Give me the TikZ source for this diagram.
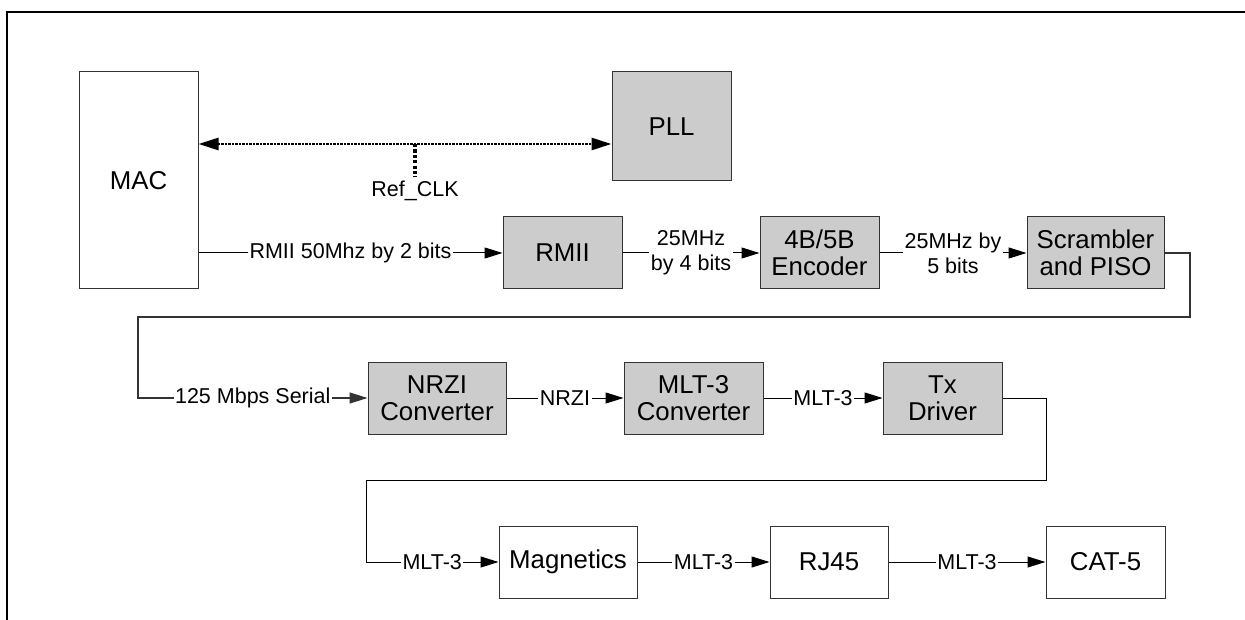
\documentclass[tikz,border=0pt]{standalone}
\usepackage{fontspec}
\setmainfont{Liberation Sans}
\usetikzlibrary{arrows.meta,calc}
\definecolor{boxfill}{HTML}{CCCCCC}
\definecolor{edgec}{HTML}{333333}
\begin{document}
\begin{tikzpicture}[x=1pt,y=-1pt,
  blk/.style={draw=edgec, line width=1pt, fill=boxfill, inner sep=0pt, align=center,
    font=\fontsize{25.8}{27}\selectfont, minimum height=72pt},
  wblk/.style={blk, fill=white},
  lbl/.style={fill=white, inner sep=1.5pt, align=center, font=\fontsize{21.5}{25}\selectfont},
  arr/.style={draw=black, line width=1pt, -{Triangle[length=18pt,width=11pt]}},
  dotarr/.style={line width=2.6pt, dash pattern=on 2.4pt off 1.1pt,
    {Triangle[length=20pt,width=12pt]}-{Triangle[length=20pt,width=12pt]}},
  stub/.style={line width=3.2pt, dash pattern=on 3.2pt off 2.2pt}]
\useasboundingbox (0,0) rectangle (1245,620);
% frame
\draw[line width=2.2pt] (7,620) -- (7,12) -- (1245,12);
% boxes
\node[wblk, minimum width=119pt, minimum height=217pt] (mac) at (138.5,180.5) {MAC};
\node[blk, minimum width=119pt, minimum height=109pt] (pll) at (671.5,126.5) {PLL};
\node[blk, minimum width=119pt] (rmii) at (562.5,253) {RMII};
\node[blk, minimum width=119pt] (enc) at (819.5,253) {4B/5B\\Encoder};
\node[blk, minimum width=137pt] (scr) at (1095.5,253) {Scrambler\\and PISO};
\node[blk, minimum width=138pt] (nrzi) at (437,398) {NRZI\\Converter};
\node[blk, minimum width=139pt] (mlt) at (693.5,398) {MLT-3\\Converter};
\node[blk, minimum width=119pt] (tx) at (942.5,398) {Tx\\Driver};
\node[wblk, minimum width=138pt] (mag) at (568,562) {Magnetics};
\node[wblk, minimum width=118pt] (rj) at (829,562) {RJ45};
\node[wblk, minimum width=119pt] (cat) at (1105.5,562) {CAT-5};
% ref clock
\coordinate (rc) at (415,144);
\node[lbl, anchor=north, inner sep=0pt] (refclk) at (415,181) {Ref\_CLK};
\draw[dotarr] (mac.east |- rc) -- (pll.west |- rc);
\draw[stub, shorten >=4pt] (rc) -- (refclk.north);
% row 2
\draw[arr] (mac.east |- rmii.west) -- node[lbl]{RMII 50Mhz by 2 bits} (rmii.west);
\draw[arr] (rmii.east) -- node[lbl]{25MHz\\by 4 bits} (enc.west);
\draw[arr] (enc.east) -- node[lbl]{25MHz by\\5 bits} (scr.west);
% wrap 1
\coordinate (c1) at (1190,317);
\coordinate (c2) at (138,317);
\draw[arr, draw=edgec, line width=1.3pt] (scr.east) -| (c1) -- (c2) |- node[lbl, pos=0.75]{125 Mbps Serial} (nrzi.west);
% row 3
\draw[arr] (nrzi.east) -- node[lbl]{NRZI} (mlt.west);
\draw[arr] (mlt.east) -- node[lbl]{MLT-3} (tx.west);
% wrap 2
\coordinate (c3) at (1046,480);
\coordinate (c4) at (366,480);
\draw[arr] (tx.east) -| (c3) -- (c4) |- node[lbl, pos=0.75]{MLT-3} (mag.west);
% row 4
\draw[arr] (mag.east) -- node[lbl]{MLT-3} (rj.west);
\draw[arr] (rj.east) -- node[lbl]{MLT-3} (cat.west);
\end{tikzpicture}
\end{document}
